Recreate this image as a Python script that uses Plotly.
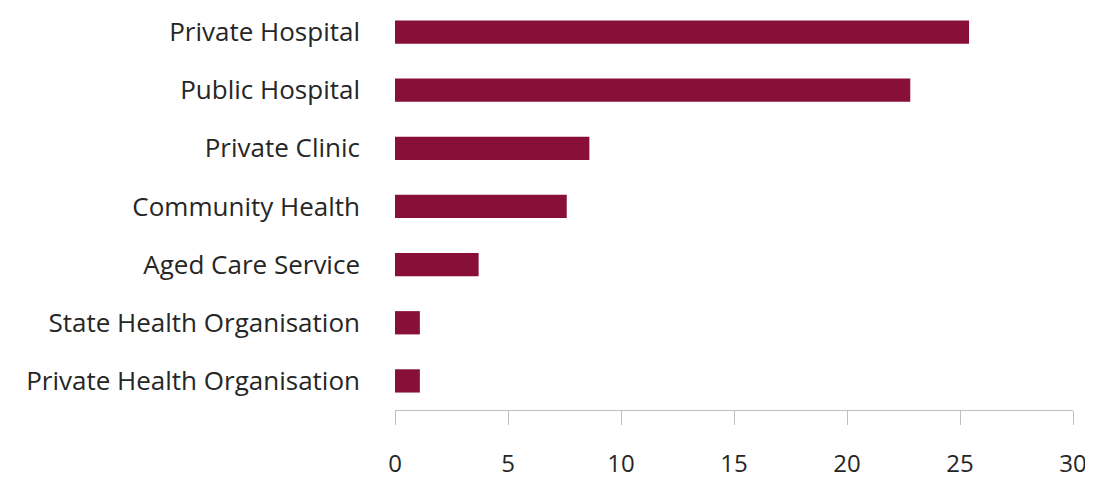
import plotly.graph_objects as go

categories = ["Private Hospital", "Public Hospital", "Private Clinic", "Community Health",
              "Aged Care Service", "State Health Organisation", "Private Health Organisation"]
values = [25.4, 22.8, 8.6, 7.6, 3.7, 1.1, 1.1]
x_ticks = [0, 5, 10, 15, 20, 25, 30]

FONT = "Open Sans"
fig = go.Figure(go.Bar(
    x=values, y=categories, orientation="h",
    marker=dict(color="#870F38", line=dict(width=0)),
))

fig.update_layout(
    width=1085, height=473,
    margin=dict(l=387, r=20, t=0, b=71, autoexpand=False),
    paper_bgcolor="white", plot_bgcolor="white",
    bargap=0.6, showlegend=False,
    font=dict(family=FONT, size=26, color="#262626"),
)
fig.update_xaxes(
    range=[0, 30], tickvals=x_ticks, showgrid=False, zeroline=False,
    showline=True, linecolor="#BFBFBF", linewidth=1,
    ticks="outside", ticklen=14, tickcolor="#BFBFBF", tickwidth=1,
    ticklabelstandoff=18, automargin=False,
    tickfont=dict(family=FONT, size=24, color="#262626"),
)
fig.update_yaxes(
    range=[6.5, -0.413], showgrid=False, zeroline=False, showline=False,
    ticks="", ticklabelstandoff=34, automargin=False,
    tickfont=dict(family=FONT, size=26, color="#262626"),
)

fig.write_html("out.html")
